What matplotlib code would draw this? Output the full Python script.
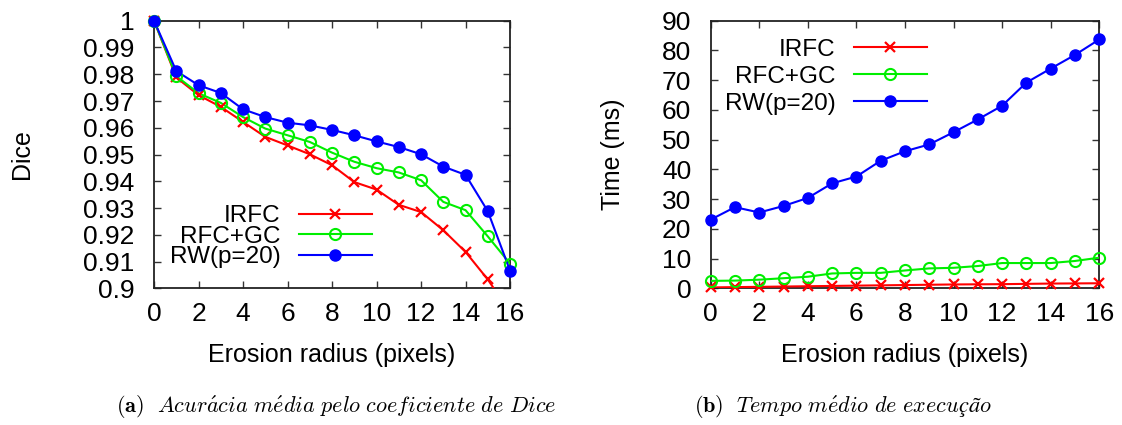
import numpy as np
import matplotlib
matplotlib.use('Agg')
import matplotlib.pyplot as plt

plt.rcParams['font.family'] = ['Liberation Sans', 'DejaVu Sans']
plt.rcParams['mathtext.fontset'] = 'cm'

# erosion radius (pixels)
radius = np.arange(0, 17)

# Dice accuracy per method
dice_irfc = [1.0, 0.9788, 0.9722, 0.9678, 0.9622, 0.9566, 0.9534, 0.9501, 0.9460,
             0.9397, 0.9369, 0.9312, 0.9285, 0.9217, 0.9136, 0.9033, 0.891]
dice_rfcgc = [1.0, 0.9793, 0.9729, 0.9693, 0.9640, 0.9597, 0.9572, 0.9547, 0.9507,
              0.9473, 0.9449, 0.9433, 0.9404, 0.9323, 0.9292, 0.9194, 0.9092]
dice_rw = [1.0, 0.9812, 0.9759, 0.9730, 0.9669, 0.9640, 0.9619, 0.9609, 0.9592,
           0.9572, 0.9549, 0.9528, 0.9501, 0.9455, 0.9424, 0.9288, 0.9066]

# execution time (ms) per method
time_irfc = [0.3, 0.4, 0.5, 0.6, 0.7, 0.8, 0.9, 1.0, 1.1, 1.2, 1.3, 1.35, 1.4,
             1.5, 1.6, 1.65, 1.7]
time_rfcgc = [2.5, 2.6, 2.9, 3.4, 3.9, 5.0, 5.2, 5.2, 6.0, 6.7, 6.9, 7.5, 8.5,
              8.5, 8.5, 9.2, 10.3]
time_rw = [23.1, 27.3, 25.5, 27.7, 30.4, 35.3, 37.6, 42.9, 46.1, 48.4, 52.5,
           56.8, 61.4, 69.2, 73.9, 78.5, 83.7]

labels = ['IRFC', 'RFC+GC', 'RW(p=20)']
colors = ['#ff0000', '#00ee00', '#0000ff']
xticks = [0, 2, 4, 6, 8, 10, 12, 14, 16]
dice_ticks = [1.0, 0.99, 0.98, 0.97, 0.96, 0.95, 0.94, 0.93, 0.92, 0.91, 0.9]
dice_ticklabels = ['1', '0.99', '0.98', '0.97', '0.96', '0.95', '0.94', '0.93',
                   '0.92', '0.91', '0.9']
time_ticks = [0, 10, 20, 30, 40, 50, 60, 70, 80, 90]

captions = [r'$\mathbf{(a)}\ \ \mathit{Acur\acute{a}cia\ m\acute{e}dia\ pelo\ coeficiente\ de\ Dice}$',
            r'$\mathbf{(b)}\ \ \mathit{Tempo\ m\acute{e}dio\ de\ execução}$']

FS = 18
TICK_FS = 19

fig = plt.figure(figsize=(11.22, 4.25), dpi=100)
ax1 = fig.add_axes([0.1373, 0.3216, 0.3173, 0.6296])
ax2 = fig.add_axes([0.6334, 0.3216, 0.3463, 0.6296])

styles = [dict(marker='x', ms=7.5, mew=1.6),
          dict(marker='o', ms=8, mew=1.5, mfc='none'),
          dict(marker='o', ms=8, mew=1.0)]


def draw(ax, series, ylo, yhi):
    handles = []
    for y, lab, c, st in zip(series, labels, colors, styles):
        y = np.asarray(y)
        ax.plot(radius, y, '-', color=c, lw=1.5, zorder=3)
        inside = (y >= ylo) & (y <= yhi)
        ax.plot(radius[inside], y[inside], ls='none', color=c, clip_on=False,
                zorder=4, **st)
        h, = ax.plot([], [], '-', color=c, lw=1.5, label=lab, **st)
        handles.append(h)
    ax.set_xlim(0, 16)
    ax.set_ylim(ylo, yhi)
    ax.set_xticks(xticks)
    ax.tick_params(direction='in', length=5, width=1, top=True, right=True,
                   labelsize=TICK_FS, pad=9.5, color='#333333')
    ax.tick_params(axis='y', pad=14)
    for sp in ax.spines.values():
        sp.set_linewidth(1.3)
        sp.set_color('#222222')
    ax.set_xlabel('Erosion radius (pixels)', fontsize=FS, va='center')
    ax.xaxis.set_label_coords(0.5, -0.249)
    return handles


h1 = draw(ax1, [dice_irfc, dice_rfcgc, dice_rw], 0.9, 1.0)
ax1.set_yticks(dice_ticks)
ax1.set_yticklabels(dice_ticklabels)
ax1.set_ylabel('Dice', fontsize=FS, va='center')
ax1.yaxis.set_label_coords(-0.371, 0.5)
ax1.legend(handles=h1, loc='center right', bbox_to_anchor=(0.612, 0.193),
           markerfirst=False, frameon=False, fontsize=FS - 0.5, handlelength=3.0,
           handletextpad=0.75, labelspacing=-0.06, borderpad=0, borderaxespad=0)

h2 = draw(ax2, [time_irfc, time_rfcgc, time_rw], 0, 90)
ax2.set_yticks(time_ticks)
ax2.set_ylabel('Time (ms)', fontsize=FS, va='center')
ax2.yaxis.set_label_coords(-0.251, 0.5)
ax2.legend(handles=h2, loc='center right', bbox_to_anchor=(0.556, 0.791),
           markerfirst=False, frameon=False, fontsize=FS - 0.5, handlelength=3.0,
           handletextpad=0.75, labelspacing=0.2, borderpad=0, borderaxespad=0)

fig.text(0.300, 0.042, captions[0], ha='center', va='center', fontsize=16)
fig.text(0.751, 0.042, captions[1], ha='center', va='center', fontsize=16)

fig.savefig('out.png', dpi=100)
